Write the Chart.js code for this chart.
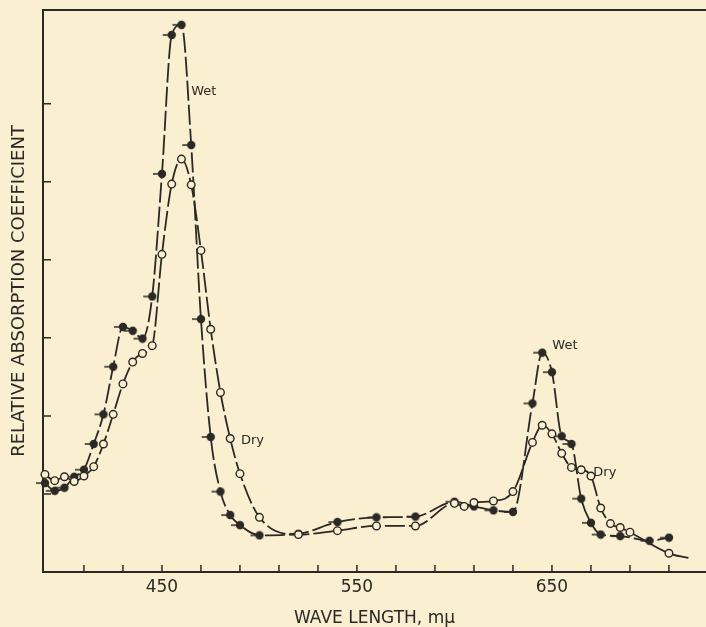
<!DOCTYPE html>
<html>
<head>
<meta charset="utf-8">
<script src="https://cdn.jsdelivr.net/npm/chart.js@4.4.0/dist/chart.umd.min.js"></script>
<style>
  html, body { margin: 0; padding: 0; background: #faefd1; }
  #wrap { width: 706px; height: 627px; }
</style>
</head>
<body>
<div id="wrap"><canvas id="myChart" width="706" height="627"></canvas></div>
<script>
// Data (wave length in m\u03bc, relative absorption in tick units)
const wetWave = [390, 395, 400, 405, 410, 415, 420, 425, 430, 435, 440, 445, 450, 455, 460, 465, 470,
                 475, 480, 485, 490, 500, 520, 540, 560, 580, 600, 610, 620, 630, 640, 645, 650,
                 655, 660, 665, 670, 675, 685, 700, 710];
const wetAbs = [1.14, 1.04, 1.08, 1.22, 1.31, 1.64, 2.02, 2.63, 3.14, 3.09, 2.99, 3.53, 5.10, 6.88, 7.01, 5.47, 3.24,
                1.73, 1.03, 0.73, 0.60, 0.47, 0.49, 0.64, 0.70, 0.71, 0.90, 0.84, 0.79, 0.77, 2.16, 2.81, 2.56,
                1.74, 1.64, 0.94, 0.63, 0.48, 0.46, 0.40, 0.44];

const dryWave = [390, 395, 400, 405, 410, 415, 420, 425, 430, 435, 440, 445, 450, 455, 460, 465, 470,
                 475, 480, 485, 490, 500, 520, 540, 560, 580, 600, 605, 610, 620, 630, 640, 645,
                 650, 655, 660, 665, 670, 675, 680, 685, 690, 710, 720];
const dryAbs = [1.25, 1.17, 1.22, 1.16, 1.23, 1.35, 1.64, 2.02, 2.41, 2.69, 2.80, 2.90, 4.07, 4.97, 5.29, 4.96, 4.12,
                3.11, 2.30, 1.71, 1.26, 0.70, 0.48, 0.53, 0.59, 0.59, 0.88, 0.84, 0.89, 0.91, 1.03, 1.66, 1.88,
                1.77, 1.52, 1.34, 1.31, 1.23, 0.82, 0.62, 0.57, 0.51, 0.24, 0.18];

const xTickValues = [410, 430, 450, 470, 490, 510, 530, 550, 570, 590, 610, 630, 650, 670, 690, 710];
const xTickLabels = [450, 550, 650];
const yTickValues = [1, 2, 3, 4, 5, 6];

const ink = "#2b2925";
const paper = "#faefd1";

// curve names written next to the curves
const curveNames = [
    { text: "Wet", wave: 465, abs: 6.15 },
    { text: "Dry", wave: 490.5, abs: 1.68 },
    { text: "Wet", wave: 650.2, abs: 2.9 },
    { text: "Dry", wave: 671.2, abs: 1.27 },
];

// filled dot with a small tail on the left
function wetMarker() {
    const c = document.createElement("canvas");
    c.width = 22;
    c.height = 10;
    const g = c.getContext("2d");
    g.fillStyle = ink;
    g.strokeStyle = ink;
    g.lineWidth = 1.5;
    g.beginPath();
    g.arc(11, 5, 4.2, 0, Math.PI * 2);
    g.fill();
    g.beginPath();
    g.moveTo(2, 5);
    g.lineTo(8, 5);
    g.stroke();
    return c;
}

const innerTicks = {
    id: "innerTicks",
    afterDraw(chart) {
        const { ctx, chartArea, scales } = chart;
        const x = scales.x, y = scales.y;
        ctx.save();
        ctx.strokeStyle = ink;
        ctx.lineWidth = 1.5;
        ctx.beginPath();
        x.ticks.forEach((t) => {
            const px = x.getPixelForValue(t.value);
            ctx.moveTo(px, chartArea.bottom);
            ctx.lineTo(px, chartArea.bottom - 7);
        });
        y.ticks.forEach((t) => {
            const py = y.getPixelForValue(t.value);
            ctx.moveTo(chartArea.left, py);
            ctx.lineTo(chartArea.left + 8, py);
        });
        ctx.stroke();
        // top frame
        ctx.lineWidth = 2;
        ctx.beginPath();
        ctx.moveTo(chartArea.left, chartArea.top);
        ctx.lineTo(chartArea.right, chartArea.top);
        ctx.stroke();

        ctx.fillStyle = ink;
        ctx.font = "13px 'DejaVu Sans'";
        ctx.textAlign = "left";
        ctx.textBaseline = "middle";
        curveNames.forEach((n) => {
            ctx.fillText(n.text, x.getPixelForValue(n.wave), y.getPixelForValue(n.abs));
        });
        ctx.restore();
    },
};

const ctx = document.getElementById("myChart").getContext("2d");

const myChart = new Chart(ctx, {
    type: "line",
    data: {
        datasets: [
            {
                label: "Dry",
                data: dryWave.map((w, i) => ({ x: w, y: dryAbs[i] })),
                borderColor: ink,
                borderWidth: 1.8,
                borderDash: [20, 4],
                pointStyle: "circle",
                pointRadius: (c) => (c.dataIndex === dryWave.length - 1 ? 0 : 3.8),
                pointBorderWidth: 1.4,
                pointBorderColor: ink,
                pointBackgroundColor: paper,
                cubicInterpolationMode: "monotone",
                clip: false,
                fill: false,
            },
            {
                label: "Wet",
                data: wetWave.map((w, i) => ({ x: w, y: wetAbs[i] })),
                borderColor: ink,
                borderWidth: 1.8,
                borderDash: [20, 4],
                pointStyle: wetMarker(),
                pointRadius: 5,
                cubicInterpolationMode: "monotone",
                clip: false,
                fill: false,
            },
        ],
    },
    options: {
        responsive: false,
        animation: false,
        events: [],
        layout: { autoPadding: false, padding: { top: 10, right: 0, left: 0, bottom: 0 } },
        plugins: {
            legend: { display: false },
            tooltip: { enabled: false },
        },
        scales: {
            x: {
                type: "linear",
                min: 389,
                max: 729,
                afterBuildTicks: (s) => { s.ticks = xTickValues.map((v) => ({ value: v })); },
                afterFit: (s) => { s.height = 55; },
                grid: { display: false, drawTicks: false },
                border: { display: true, color: ink, width: 2 },
                ticks: {
                    autoSkip: false,
                    maxRotation: 0,
                    padding: 5,
                    color: ink,
                    font: { family: "'DejaVu Sans'", size: 17 },
                    callback: (v) => (xTickLabels.includes(v) ? String(v) : ""),
                },
                title: {
                    display: true,
                    text: "WAVE LENGTH, m\u03bc",
                    color: ink,
                    padding: { top: 0, bottom: 0 },
                    font: { family: "'DejaVu Sans'", size: 17, lineHeight: 1 },
                },
            },
            y: {
                min: 0,
                max: 7.2,
                afterBuildTicks: (s) => { s.ticks = yTickValues.map((v) => ({ value: v })); },
                afterFit: (s) => { s.width = 43; },
                grid: { display: false, drawTicks: false },
                border: { display: true, color: ink, width: 2 },
                ticks: { display: false },
                title: {
                    display: true,
                    text: "RELATIVE ABSORPTION COEFFICIENT",
                    color: ink,
                    padding: { top: 10, bottom: 0 },
                    font: { family: "'DejaVu Sans'", size: 18, lineHeight: 1 },
                },
            },
        },
    },
    plugins: [innerTicks],
});
</script>
</body>
</html>
